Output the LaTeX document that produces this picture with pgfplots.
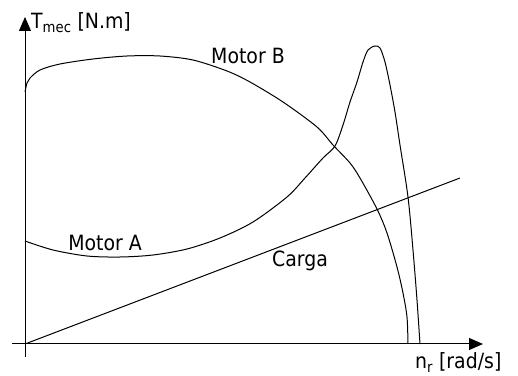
\documentclass[border=0pt]{standalone}
\usepackage{fontspec}
\setmainfont{DejaVu Sans Condensed}
\usepackage{pgfplots}
\pgfplotsset{compat=1.18}
\usetikzlibrary{arrows.meta}

% curves, 1 unit = 1 px, origin at the axes' crossing
\pgfplotstableread{
x y
0 252
2 261
5 266
15 274
35 280
68 285
102 288
135 288
168 284
202 273
225 262
258 242
292 217
308 199
325 181
335 166
352 135
362 111
372 77
378 51
382 27
383 0
}\motorB

\pgfplotstableread{
x y
0 103
28 94
62 88
95 87
128 89
162 95
195 106
228 122
262 147
280 166
298 186
310 198
318 219
325 242
332 262
338 282
343 294
350 298
355 296
360 282
365 259
370 232
375 199
383 147
388 94
392 44
395 0
}\motorA

\begin{document}
\begin{tikzpicture}
\fontsize{21bp}{25bp}\selectfont
\useasboundingbox (-25bp,-32bp) rectangle (493bp,344bp);
\begin{axis}[at={(0,0)}, anchor=origin, x=1bp, y=1bp,
  xmin=-13, xmax=458, ymin=-13, ymax=327, enlargelimits=false,
  axis lines=middle, xtick=\empty, ytick=\empty, clip=false,
  axis line style={line width=1bp, -{Triangle[length=14bp,width=12bp]}}]
\addplot[black, line width=1bp, smooth, no markers] table {\motorB};
\addplot[black, line width=1bp, smooth, no markers] table {\motorA};
\addplot[black, line width=1bp, no markers] coordinates {(0,0) (435,166)};
\node at (axis cs:223,288) {Motor B};
\node at (axis cs:80,101) {Motor A};
\node at (axis cs:275,83) {Carga};
\node[anchor=base west, inner sep=0pt] at (axis cs:6,315) {T\textsubscript{mec} [N.m]};
\node[anchor=base west, inner sep=0pt] at (axis cs:390,-25) {n\textsubscript{r} [rad/s]};
\end{axis}
\end{tikzpicture}
\end{document}
